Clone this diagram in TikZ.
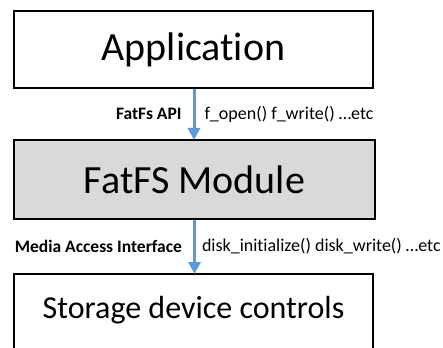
\documentclass[tikz,border=0pt]{standalone}
\usepackage{fontspec}
\setmainfont{Carlito}[Ligatures=NoCommon]
\usepackage{tikz}
\usetikzlibrary{arrows.meta}

\definecolor{flowblue}{HTML}{5B9BD5}
\definecolor{modgray}{HTML}{D9D9D9}

\begin{document}
\begin{tikzpicture}[x=1pt, y=-1pt,
    layer/.style={draw=black, line width=2pt, minimum width=359pt, inner sep=0pt},
    flow/.style={draw=flowblue, line width=3pt, -{Triangle[width=12pt,length=12pt]}, shorten >=-1pt},
    apilabel/.style={font=\fontsize{17.5}{20}\selectfont\bfseries, inner sep=1pt},
    calllabel/.style={font=\fontsize{18}{20}\selectfont, inner sep=1pt}]
      \useasboundingbox (0,0) rectangle (443,347);

      % The three layers
      \node[layer, minimum height=77pt, font=\fontsize{40}{44}\selectfont] (app) at (193.5,49.5) {Application};
      \node[layer, fill=modgray, minimum width=361pt, minimum height=79pt, font=\fontsize{40}{44}\selectfont] (fatfs) at (194.5,179.5) {FatFS Module};
      \node[layer, anchor=north, inner ysep=21pt, text height=23pt, text depth=80pt, font=\fontsize{32}{36}\selectfont] (disk) at (193.5,273) {Storage device controls};

      % Interfaces between the layers
      \draw[flow] (app.south -| 194,0) -- (fatfs.north -| 194,0)
        node[midway, left=10pt, apilabel] {FatFs API}
        node[midway, right=8pt, calllabel] {f\_open() f\_write() …etc};
      \draw[flow] (fatfs.south -| 194.5,0) -- (disk.north -| 194.5,0)
        node[midway, left=10pt, apilabel] {Media Access Interface}
        node[midway, right=5pt, calllabel] {disk\_initialize() disk\_write() …etc};
    \end{tikzpicture}
\end{document}
